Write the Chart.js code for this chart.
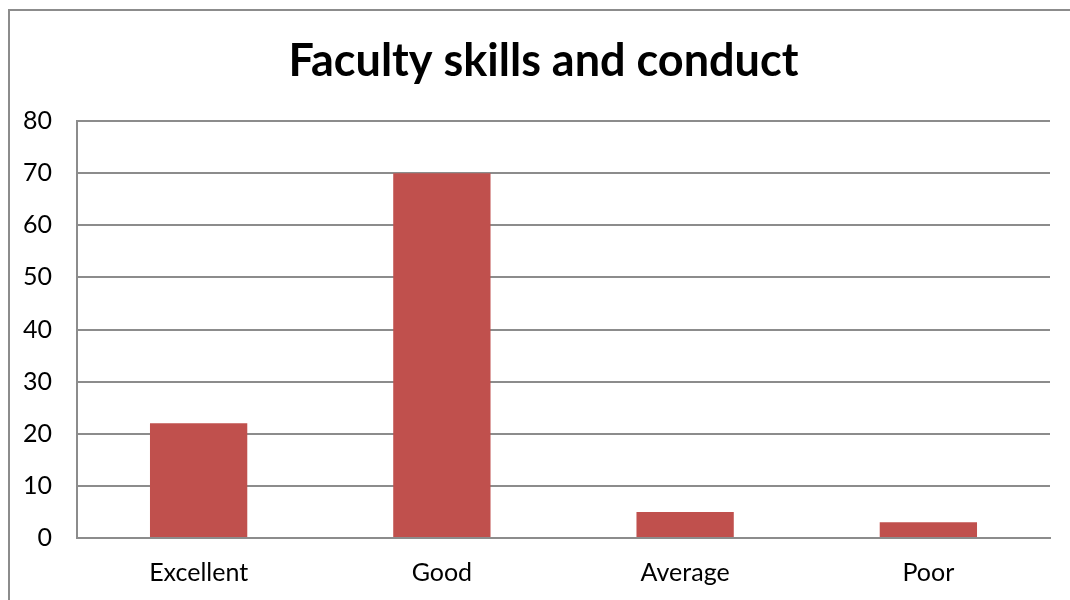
<!DOCTYPE html>
<html>
<head>
<meta charset="utf-8">
<script src="https://cdn.jsdelivr.net/npm/chart.js@4.4.0/dist/chart.umd.min.js"></script>
<style>
  html, body { margin: 0; padding: 0; background: #fff; overflow: hidden; }
  #wrap { position: relative; width: 1070px; height: 600px; }
  #frame { position: absolute; left: 8px; top: 9px; width: 1200px; height: 800px; border: 2px solid #8c8c8c; box-sizing: border-box; }
  canvas { position: absolute; left: 0; top: 0; }
</style>
</head>
<body>
<div id="wrap">
  <div id="frame"></div>
  <canvas id="c" width="1070" height="600"></canvas>
</div>
<script>
const title = 'Faculty skills and conduct';
const categories = ['Excellent', 'Good', 'Average', 'Poor'];
const values = [22, 70, 5, 3];
const yMin = 0, yMax = 80, yStep = 10;

const FONT = 'Lato, "Open Sans", sans-serif';
const GRID = '#8c8c8c';

// centre the title over the whole chart frame rather than the layout box
const titleCentering = {
  id: 'titleCentering',
  afterLayout(chart) {
    if (chart.titleBlock) {
      chart.titleBlock.left = 37;
      chart.titleBlock.right = 1050;
    }
  }
};

new Chart(document.getElementById('c'), {
  type: 'bar',
  data: {
    labels: categories,
    datasets: [{
      data: values,
      backgroundColor: '#C0504D',
      borderWidth: 0,
      barPercentage: 0.4,
      categoryPercentage: 1.0
    }]
  },
  plugins: [titleCentering],
  options: {
    responsive: false,
    animation: false,
    layout: { padding: { left: 0, right: 20, top: 0, bottom: 0 } },
    plugins: {
      legend: { display: false },
      tooltip: { enabled: false },
      title: {
        display: true,
        text: title,
        color: '#000',
        font: { family: FONT, size: 45, weight: 'bold', lineHeight: 1.2 },
        padding: { top: 34, bottom: 33 }
      }
    },
    scales: {
      x: {
        grid: { display: false, drawTicks: false },
        border: { display: true, color: GRID, width: 2 },
        ticks: { color: '#000', font: { family: FONT, size: 25 }, padding: 20 },
        afterFit: (s) => { s.height = 62; }
      },
      y: {
        min: yMin, max: yMax,
        ticks: { stepSize: yStep, color: '#000', font: { family: FONT, size: 25 }, padding: 25 },
        grid: { color: GRID, lineWidth: 2, drawTicks: false },
        border: { display: true, color: GRID, width: 2 },
        afterFit: (s) => { s.width = 77; }
      }
    }
  }
});
</script>
</body>
</html>
